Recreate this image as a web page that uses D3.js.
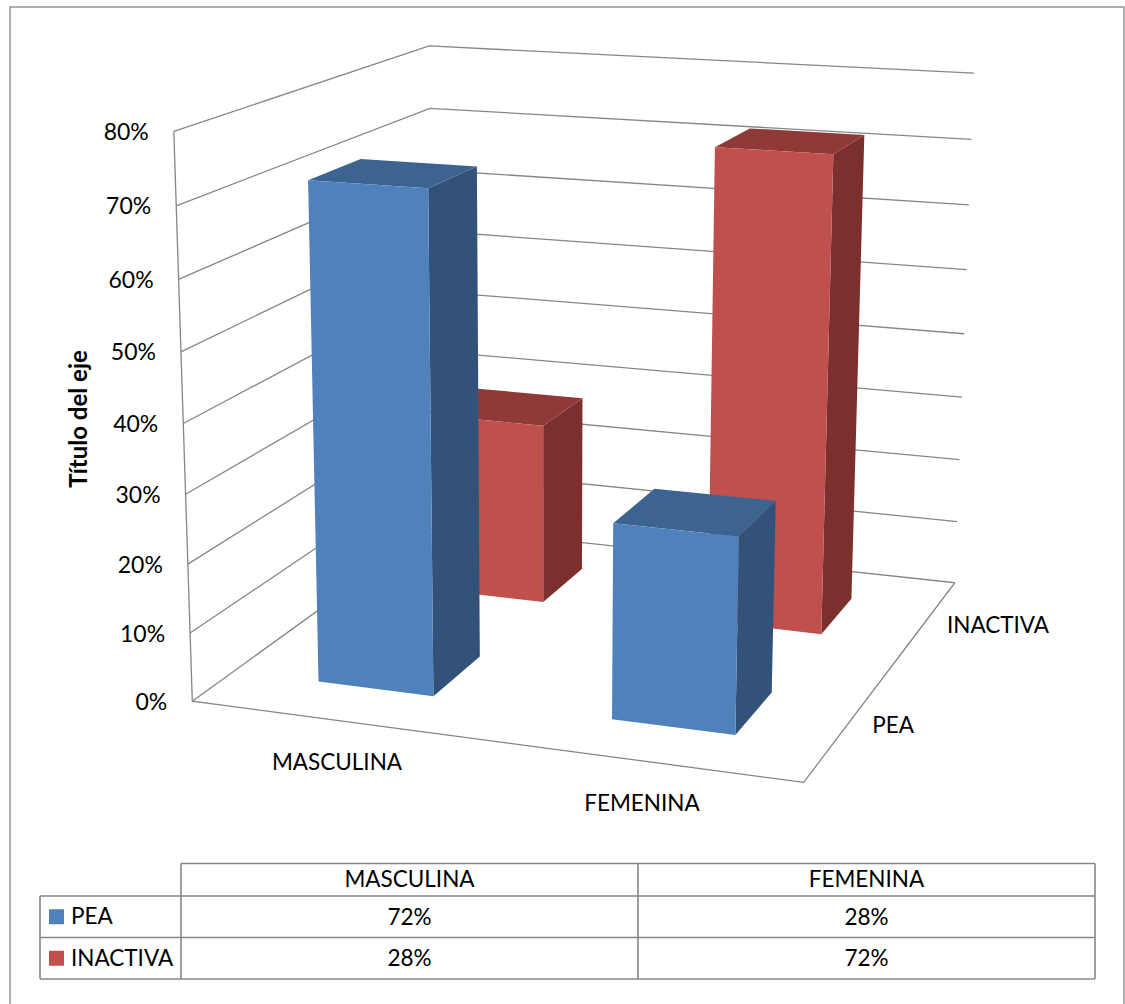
<!DOCTYPE html>
<html><head><meta charset="utf-8">
<script src="https://cdn.jsdelivr.net/npm/d3@7/dist/d3.min.js"></script>
<style>html,body{margin:0;padding:0;background:#fff;overflow:hidden}svg{display:block}text{font-family:Lato,Carlito,sans-serif;fill:#000}</style>
</head><body><svg id="c" width="1125" height="1004"></svg>
<script>
const categories=["MASCULINA","FEMENINA"];
const seriesNames=["PEA","INACTIVA"];
const pea=[0.72,0.28];
const inactiva=[0.28,0.72];
const tickValues=[0,0.1,0.2,0.3,0.4,0.5,0.6,0.7,0.8];
const axisTitle="Título del eje";
const svg=d3.select("#c");
// calibration of the projection: box position (u,v,w in 0..1) -> screen position
const anchors=[[0,0,0,192,700],[1,0,0,804,783.5],[1,1,0,955,582.5],[0,1,0,432,528],[0,0,1,172,129.5],[0,1,1,431,45],[1,1,1,973,72],[0,0,.875,176,204],[0,1,.875,431,108],[1,1,.875,971,139],
 [.15,.15,.9,308,183],[.35,.15,.9,428,188],[.15,.35,.9,362,161],[.35,.35,.9,476,169],
 [.15,.15,0,319,681],[.35,.15,0,434,695],[.35,.35,0,480,657],[.65,.15,0,612.5,719],[.85,.15,0,736,735]];
function solve(A,b){const n=b.length;const M=A.map((r,i)=>[...r,b[i]]);
 for(let i=0;i<n;i++){let p=i;for(let k=i+1;k<n;k++)if(Math.abs(M[k][i])>Math.abs(M[p][i]))p=k;[M[i],M[p]]=[M[p],M[i]];
  for(let k=0;k<n;k++){if(k==i)continue;const f=M[k][i]/M[i][i];for(let j=i;j<=n;j++)M[k][j]-=f*M[i][j];}}
 return M.map((r,i)=>r[n]/r[i]);}
const rows=[],rhs=[];
anchors.forEach(([u,v,w,x,y])=>{rows.push([u,v,w,1,0,0,0,0,-x*u,-x*v,-x*w]);rhs.push(x);rows.push([0,0,0,0,u,v,w,1,-y*u,-y*v,-y*w]);rhs.push(y);});
const ATA=d3.range(11).map(i=>d3.range(11).map(j=>d3.sum(rows,r=>r[i]*r[j])));
const ATb=d3.range(11).map(i=>d3.sum(rows,(r,k)=>r[i]*rhs[k]));
const P=solve(ATA,ATb);
function proj(u,v,w){const d=P[8]*u+P[9]*v+P[10]*w+1;return[(P[0]*u+P[1]*v+P[2]*w+P[3])/d,(P[4]*u+P[5]*v+P[6]*w+P[7])/d];}
const uScale=d3.scaleBand().domain(categories).range([0,1]).paddingInner(.6).paddingOuter(.3);
const vScale=d3.scaleBand().domain(seriesNames).range([0,1]).paddingInner(.6).paddingOuter(.3);
const wScale=d3.scaleLinear().domain([0,.8]).range([0,1]);
const line=d3.line();
const grey="#868686", FS=22.5;
const g=svg.append("g");
const txt=(x,y,s,a="middle",fs=FS)=>g.append("text").attr("x",x).attr("y",y).attr("dy","0.35em").attr("text-anchor",a).attr("font-size",fs).text(s);
g.append("rect").attr("x",10).attr("y",7).attr("width",1114).attr("height",1100).attr("fill","#fff").attr("stroke",grey).attr("stroke-width",1.3);
tickValues.forEach(t=>{const w=wScale(t);g.append("path").attr("d",line([proj(0,0,w),proj(0,1,w),proj(1,1,w)])).attr("fill","none").attr("stroke",grey).attr("stroke-width",1.3);
 const p=proj(0,0,w);txt(p[0]-25,p[1]+0.5,d3.format(".0%")(t),"end",23);});
g.append("path").attr("d",line([proj(0,0,1),proj(0,0,0),proj(1,0,0),proj(1,1,0)])).attr("fill","none").attr("stroke",grey).attr("stroke-width",1.3);
const colors={PEA:["#4F81BD","#3D6391","#32527A"],INACTIVA:["#C0504D","#8F3A38","#7C302E"]};
const vals={PEA:pea,INACTIVA:inactiva};
["INACTIVA","PEA"].forEach(s=>categories.forEach((c,i)=>{
 const u0=uScale(c),u1=u0+uScale.bandwidth(),v0=vScale(s),v1=v0+vScale.bandwidth(),w=wScale(vals[s][i]);
 const poly=(pts,f)=>g.append("path").attr("d",line(pts)+"Z").attr("fill",f);
 poly([proj(u1,v0,0),proj(u1,v1,0),proj(u1,v1,w),proj(u1,v0,w)],colors[s][2]);
 poly([proj(u0,v0,w),proj(u1,v0,w),proj(u1,v1,w),proj(u0,v1,w)],colors[s][1]);
 poly([proj(u0,v0,0),proj(u1,v0,0),proj(u1,v0,w),proj(u0,v0,w)],colors[s][0]);
}));
// axis labels
txt(337,762,categories[0]); txt(642,803,categories[1]);
txt(893,725,seriesNames[0]); txt(998,625,seriesNames[1]);
g.append("text").attr("transform","translate(79,419) rotate(-90)").attr("dy","0.35em").attr("text-anchor","middle").attr("font-size",24).attr("font-weight",700).text(axisTitle);
// data table
const tx=[40,181,638,1095], ty=[863.5,896,937.5,979];
const tl=(x1,y1,x2,y2)=>g.append("line").attr("x1",x1).attr("y1",y1).attr("x2",x2).attr("y2",y2).attr("stroke",grey).attr("stroke-width",1.6);
tl(tx[1],ty[0],tx[3],ty[0]);tl(tx[0],ty[1],tx[3],ty[1]);tl(tx[0],ty[2],tx[3],ty[2]);tl(tx[0],ty[3],tx[3],ty[3]);
tl(tx[0],ty[1],tx[0],ty[3]);tl(tx[1],ty[0],tx[1],ty[3]);tl(tx[2],ty[0],tx[2],ty[3]);tl(tx[3],ty[0],tx[3],ty[3]);
categories.forEach((c,i)=>txt((tx[i+1]+tx[i+2])/2,879.5,c));
seriesNames.forEach((s,j)=>{const yc=(ty[j+1]+ty[j+2])/2;
 g.append("rect").attr("x",49).attr("y",yc-7.5).attr("width",15).attr("height",15).attr("fill",colors[s][0]);
 txt(71,yc-0.5,s,"start");
 vals[s].forEach((v,i)=>txt((tx[i+1]+tx[i+2])/2,yc,d3.format(".0%")(v)));});
</script></body></html>
